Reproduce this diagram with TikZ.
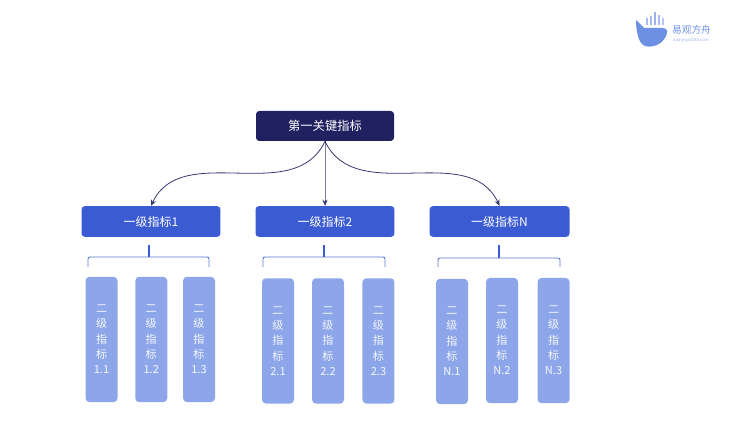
\documentclass[tikz,border=0pt]{standalone}
\usepackage{fontspec}
\setmainfont{Noto Sans CJK SC}
\usepackage{tikz}
\usetikzlibrary{arrows.meta}

\definecolor{rootblue}{HTML}{1F2160}
\definecolor{firstblue}{HTML}{3B5BD2}
\definecolor{secondblue}{HTML}{8DA6EA}
\definecolor{braceblue}{HTML}{5C79D8}
\definecolor{arrowblue}{HTML}{35386F}
\definecolor{logoblue}{HTML}{6E90E4}

\tikzset{
	rootbox/.style={rectangle,rounded corners=2.5pt,fill=rootblue,text=white,minimum width=103.5pt,minimum height=22.5pt,inner sep=0pt,font=\fontsize{9.2}{11}\selectfont},
	firstbox/.style={rectangle,rounded corners=2.5pt,fill=firstblue,text=white,minimum width=104.2pt,minimum height=23pt,inner sep=0pt,font=\fontsize{9}{11}\selectfont},
	secondbox/.style={rectangle,rounded corners=3pt,fill=secondblue,text=white!92!secondblue,minimum width=24pt,minimum height=94pt,inner sep=0pt,align=center,font=\fontsize{8.3}{11.5}\selectfont},
	bracket/.style={draw=braceblue,line width=0.7pt,rounded corners=1.5pt},
	stem/.style={draw=firstblue,line width=0.8pt}
}

\begin{document}
\begin{tikzpicture}[x=0.75pt,y=0.75pt,
	level 1/.style={sibling distance=130.5pt,level distance=71.6pt,
		edge from parent path={(\tikzparentnode.south) to (\tikzchildnode.north)},
		edge from parent/.style={draw=arrowblue,line width=0.6pt,out=-90,in=90,-{Stealth[length=4.6pt,width=3.8pt]}}},
	level 2/.style={sibling distance=37.5pt,level distance=88.5pt,
		edge from parent path={},edge from parent/.style={}}]
	\useasboundingbox (0,0) rectangle (730,435);
	\node [rootbox] at (325,309) (root) {第一关键指标}
		child {node [firstbox] (firstA) {一级指标1}
			child [xshift=0.4pt] {node [secondbox] (secondAa) {二\\级\\指\\标\\1.1}}
			child [xshift=0.2pt] {node [secondbox] (secondAb) {二\\级\\指\\标\\1.2}}
			child [xshift=-1.5pt] {node [secondbox] (secondAc) {二\\级\\指\\标\\1.3}}
			edge from parent [out=-115,in=65]
		}
		child {node [firstbox] (firstB) {一级指标2}
			child [xshift=2.25pt,yshift=-1.1pt] {node [secondbox] (secondBa) {二\\级\\指\\标\\2.1}}
			child [xshift=2.25pt,yshift=-1.1pt] {node [secondbox] (secondBb) {二\\级\\指\\标\\2.2}}
			child [xshift=2.6pt,yshift=-1.1pt] {node [secondbox] (secondBc) {二\\级\\指\\标\\2.3}}
		}
		child {node [firstbox,minimum width=105pt,xshift=0.4pt] (firstC) {一级指标N}
			child [xshift=1.85pt,yshift=-1.5pt] {node [secondbox] (secondCa) {二\\级\\指\\标\\N.1}}
			child [xshift=1.85pt,yshift=-0.8pt] {node [secondbox] (secondCb) {二\\级\\指\\标\\N.2}}
			child [xshift=3pt,yshift=-0.8pt] {node [secondbox] (secondCc) {二\\级\\指\\标\\N.3}}
			edge from parent [out=-65,in=115]
		};

	% brackets under the first level
	\coordinate (stemA) at (149,190);
	\coordinate (midA) at (149,178);
	\coordinate (leftA) at (88,168);
	\coordinate (rightA) at (209,168);
	\coordinate (stemB) at (324,190);
	\coordinate (midB) at (324,178);
	\coordinate (leftB) at (263,168);
	\coordinate (rightB) at (385,168);
	\coordinate (stemC) at (499,190);
	\coordinate (midC) at (499,177);
	\coordinate (leftC) at (438,168);
	\coordinate (rightC) at (560,168);
	\draw [bracket] (leftA) |- (midA) -| (rightA);
	\draw [stem] (stemA) -- (midA);
	\draw [bracket] (leftB) |- (midB) -| (rightB);
	\draw [stem] (stemB) -- (midB);
	\draw [bracket] (leftC) |- (midC) -| (rightC);
	\draw [stem] (stemC) -- (midC);

	% logo
	\fill [logoblue] (636,415) .. controls (640,411) and (642,409) .. (644,407) -- (662,407)
		.. controls (668,407) and (668,403) .. (666,399) .. controls (662,390) and (652,387) .. (645,389)
		.. controls (639,391) and (636,402) .. (636,415);
	\fill [logoblue!60] (646,410) rectangle (648,417);
	\fill [logoblue!60] (650,410) rectangle (652,419);
	\fill [logoblue!70] (654,410) rectangle (656,423);
	\fill [logoblue!60] (658,410) rectangle (660,420);
	\fill [logoblue!50] (662,410) rectangle (664,417);
	\node [text=logoblue,inner sep=0pt,font=\fontsize{7.3}{8}\selectfont] at (691.5,405) (logoname) {易观方舟};
	\node [text=logoblue!70,inner sep=0pt,font=\fontsize{3.2}{4}\selectfont] at (691,395) (logosite) {analysysdata.com};
\end{tikzpicture}
\end{document}
